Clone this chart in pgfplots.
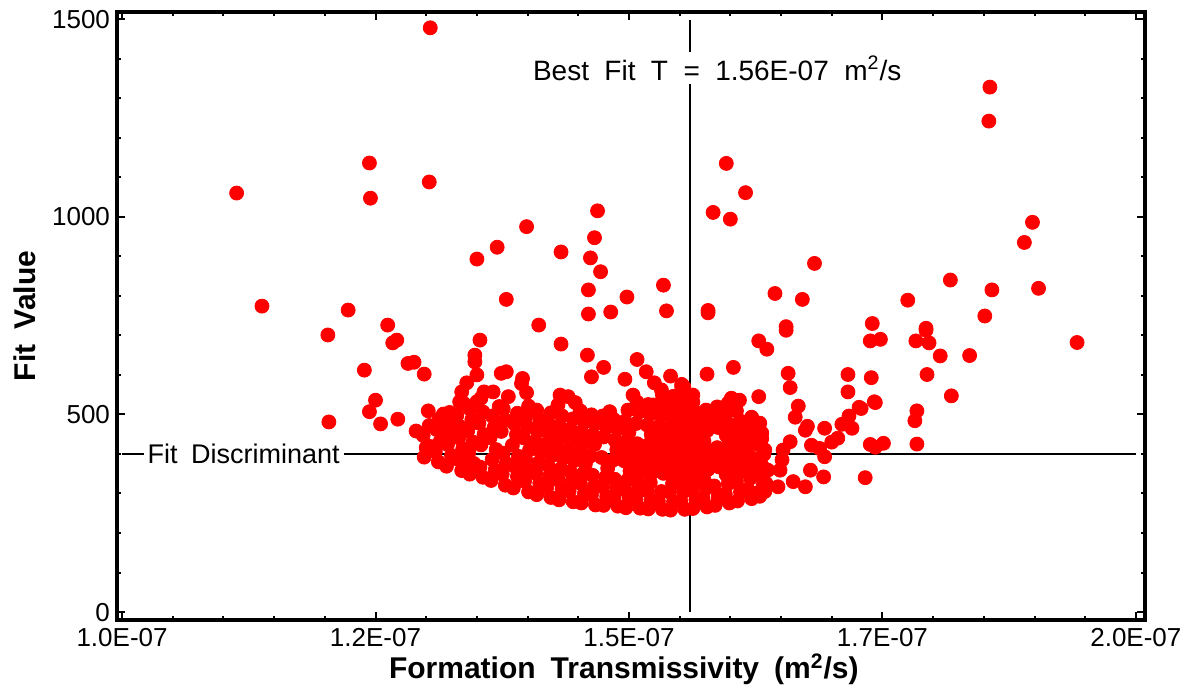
\documentclass[border=0pt]{standalone}
\usepackage{pgfplots}
\pgfplotsset{compat=1.18}
\usepackage{pgfplotstable}
\usepackage{fontspec}
\setmainfont{Liberation Sans}

% x in units of 1E-07 m2/s, y = fit value
\pgfplotstableread{
x y
1.113 1060
1.138 774
1.203 701
1.204 481
1.223 764
1.239 612
1.244 1136
1.245 1047
1.244 507
1.250 536
1.255 476
1.262 726
1.267 681
1.271 688
1.272 488
1.282 629
1.288 632
1.298 602
1.290 458
1.304 1478
1.303 1088
1.302 509
1.300 416
1.306 418
1.317 501
1.330 498
1.323 477
1.322 452
1.342 378
1.350 893
1.370 923
1.399 975
1.379 791
1.411 726
1.433 911
1.469 1015
1.466 947
1.462 896
1.472 861
1.460 815
1.498 797
1.460 754
1.482 759
1.534 827
1.537 762
1.433 678
1.459 650
1.475 619
1.463 595
1.508 639
1.517 608
1.496 589
1.504 549
1.541 597
1.525 580
1.532 562
1.552 570
1.524 524
1.535 537
1.553 519
1.374 604
1.379 608
1.395 591
1.394 578
1.399 555
1.353 688
1.348 650
1.348 633
1.350 600
1.340 580
1.357 557
1.335 557
1.333 532
1.350 532
1.432 549
1.440 545
1.447 530
1.366 557
1.381 545
1.372 520
1.481 507
1.596 1135
1.615 1061
1.583 1011
1.600 994
1.683 882
1.644 806
1.671 791
1.578 763
1.578 757
1.655 722
1.740 730
1.793 718
1.775 789
1.817 840
1.856 1328
1.855 1242
1.898 986
1.890 935
1.904 819
1.858 815
1.851 749
1.942 682
1.793 713
1.783 686
1.796 681
1.807 648
1.836 649
1.794 601
1.818 547
1.738 686
1.748 690
1.739 593
1.729 515
1.743 530
1.784 509
1.782 484
1.738 424
1.743 417
1.751 427
1.784 425
1.733 340
1.655 713
1.628 686
1.636 665
1.603 619
1.577 602
1.657 604
1.659 568
1.716 601
1.716 557
1.628 545
1.601 541
1.609 536
1.554 570
1.563 549
1.667 521
1.664 493
1.674 460
1.693 465
1.727 518
1.717 496
1.720 465
1.710 475
1.742 532
1.659 431
1.631 439
1.634 410
1.680 422
1.688 414
1.693 393
1.679 359
1.692 342
1.674 317
1.662 330
1.651 385
1.649 359
1.647 317
1.637 359
1.635 326
1.624 300
1.634 305
1.652 410
1.620 370
1.700 430
1.706 440
1.676 470
1.298 392
1.302 420
1.297 447
1.303 472
1.312 380
1.309 406
1.314 433
1.310 462
1.313 489
1.320 369
1.325 396
1.321 424
1.319 479
1.323 505
1.335 358
1.331 387
1.336 413
1.332 441
1.334 468
1.330 497
1.337 528
1.343 349
1.347 376
1.342 404
1.346 430
1.341 459
1.345 487
1.343 514
1.356 341
1.353 367
1.354 423
1.357 449
1.352 478
1.356 506
1.354 541
1.364 333
1.368 359
1.365 386
1.369 411
1.363 441
1.367 467
1.365 496
1.378 321
1.375 349
1.379 376
1.376 402
1.374 457
1.378 486
1.376 514
1.386 314
1.390 343
1.387 369
1.391 394
1.385 422
1.389 449
1.387 476
1.390 503
1.401 304
1.397 331
1.400 359
1.398 386
1.402 411
1.396 441
1.400 468
1.398 494
1.401 521
1.409 297
1.412 326
1.408 351
1.411 378
1.413 405
1.407 431
1.410 457
1.412 487
1.409 511
1.423 290
1.419 317
1.422 345
1.420 371
1.424 396
1.418 425
1.422 449
1.420 479
1.423 504
1.431 284
1.434 311
1.430 335
1.433 363
1.435 389
1.429 417
1.433 441
1.431 471
1.434 496
1.430 524
1.445 279
1.441 306
1.444 331
1.442 355
1.446 383
1.440 409
1.444 435
1.442 463
1.445 489
1.453 276
1.456 299
1.452 326
1.455 351
1.457 375
1.451 403
1.455 427
1.453 456
1.456 481
1.452 509
1.467 271
1.463 297
1.466 319
1.464 346
1.462 395
1.466 424
1.464 448
1.467 476
1.463 499
1.475 270
1.478 292
1.474 317
1.477 341
1.479 364
1.473 391
1.475 443
1.478 467
1.474 496
1.489 268
1.485 289
1.488 314
1.486 336
1.484 384
1.488 411
1.486 435
1.489 463
1.485 487
1.497 264
1.500 289
1.496 309
1.499 335
1.501 357
1.495 383
1.499 405
1.497 431
1.500 455
1.496 483
1.499 511
1.511 263
1.507 285
1.510 309
1.508 330
1.512 356
1.506 378
1.510 404
1.508 426
1.507 477
1.510 506
1.508 531
1.519 261
1.522 283
1.518 307
1.521 328
1.523 353
1.517 375
1.521 401
1.519 423
1.522 449
1.518 473
1.521 501
1.519 525
1.533 260
1.529 281
1.532 305
1.534 351
1.528 372
1.532 398
1.530 420
1.533 446
1.529 469
1.532 497
1.530 521
1.533 549
1.541 258
1.544 280
1.540 304
1.543 325
1.545 350
1.539 371
1.543 396
1.541 418
1.544 444
1.540 467
1.543 494
1.541 517
1.544 546
1.555 260
1.551 281
1.554 305
1.552 326
1.556 351
1.550 373
1.554 399
1.552 421
1.555 447
1.551 470
1.554 498
1.552 522
1.555 551
1.552 576
1.563 262
1.566 284
1.562 309
1.565 330
1.567 356
1.561 378
1.565 404
1.563 426
1.566 453
1.562 477
1.565 506
1.563 531
1.577 266
1.573 288
1.576 313
1.574 335
1.578 361
1.572 383
1.576 409
1.574 432
1.577 459
1.573 483
1.576 511
1.585 270
1.588 293
1.584 319
1.589 367
1.583 389
1.587 416
1.588 467
1.584 491
1.587 519
1.599 276
1.595 299
1.598 325
1.596 347
1.600 373
1.594 396
1.598 423
1.596 447
1.599 475
1.595 499
1.598 529
1.607 281
1.610 304
1.606 331
1.609 354
1.611 381
1.605 404
1.609 431
1.607 455
1.610 483
1.606 509
1.621 287
1.617 311
1.620 339
1.618 362
1.622 389
1.616 413
1.620 441
1.618 465
1.621 493
1.629 293
1.632 317
1.628 346
1.631 371
1.633 399
1.627 424
1.631 453
1.629 478
}\fitdata

\begin{document}
\begin{tikzpicture}
\begin{axis}[
  scale only axis,
  width=514pt, height=304pt,
  xmin=0.995, xmax=2.009,
  ymin=-20, ymax=1518,
  axis line style={line width=1.6pt},
  xtick={1,1.25,1.5,1.75,2},
  xticklabels={1.0E-07,1.2E-07,1.5E-07,1.7E-07,2.0E-07},
  minor xtick={1.05,1.1,1.15,1.2,1.3,1.35,1.4,1.45,1.55,1.6,1.65,1.7,1.8,1.85,1.9,1.95},
  ytick={0,500,1000,1500},
  yticklabels={0,500,1000,1500},
  minor ytick={100,200,300,400,600,700,800,900,1100,1200,1300,1400},
  tick align=inside,
  major tick length=4pt,
  minor tick length=2pt,
  every tick/.style={black, line width=1pt},
  tick label style={font=\fontsize{13}{15}\selectfont},
  xticklabel style={inner sep=0.5pt, yshift=-3.3pt},
  xlabel={Formation\hspace{0.5em}Transmissivity\hspace{0.5em}(m\textsuperscript{2}/s)},
  ylabel={Fit\hspace{0.5em}Value},
  xlabel style={font=\fontsize{15}{18}\bfseries, inner sep=0pt, at={(axis description cs:0.493,-0.081)}, anchor=center},
  ylabel style={font=\fontsize{15}{18}\bfseries, at={(axis description cs:-0.0895,0.5)}, anchor=center},
  clip=false,
]
\addplot[only marks, mark=*, mark size=3.5pt, mark options={fill=red, draw=red}] table[x=x,y=y] {\fitdata};
\draw[line width=1pt] (axis cs:1.56,0) -- (axis cs:1.56,1497);
\draw[line width=1pt] (axis cs:1.0,400) -- (axis cs:2.0,400);
\node[fill=white, inner sep=2pt, font=\fontsize{14}{16}\selectfont] at (axis cs:1.587,1376)
  {Best\hspace{0.55em}Fit\hspace{0.55em}T\hspace{0.55em}=\hspace{0.55em}1.56E-07\hspace{0.55em}m\textsuperscript{2}/s};
\node[fill=white, inner sep=2pt, font=\fontsize{13.5}{16}\selectfont] at (axis cs:1.120,400)
  {Fit\hspace{0.5em}Discriminant};
\end{axis}
\pgfresetboundingbox
\path ([shift={(-58.5pt,-33pt)}]current axis.south west) rectangle ([shift={(24.5pt,6pt)}]current axis.north east);
\end{tikzpicture}
\end{document}
